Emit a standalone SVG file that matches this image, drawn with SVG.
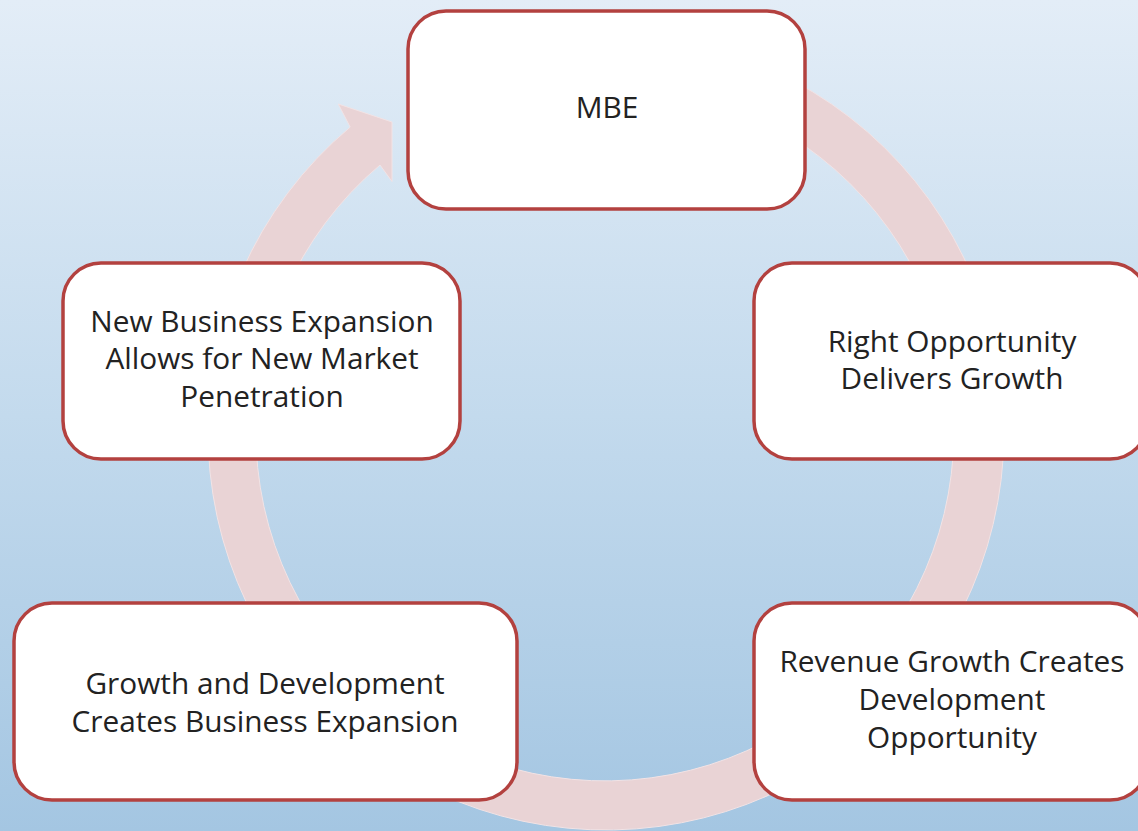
<svg xmlns="http://www.w3.org/2000/svg" width="1138" height="831" viewBox="0 0 1138 831">
  <defs>
    <linearGradient id="bg" x1="0" y1="0" x2="0" y2="1">
      <stop offset="0" stop-color="#e3edf7"/>
      <stop offset="0.5" stop-color="#c3daed"/>
      <stop offset="1" stop-color="#a4c6e2"/>
    </linearGradient>
    <style>
      .box { fill: #ffffff; stroke: #b3413f; stroke-width: 3.5; }
      .lbl { font-family: "Open Sans", Lato, "Liberation Sans", sans-serif; font-size: 29.8px; fill: #222222; text-anchor: middle; }
      .ring { fill: #e9d3d5; stroke: #f2e3e5; stroke-width: 1; }
    </style>
  </defs>
  <rect x="0" y="0" width="1138" height="831" fill="url(#bg)"/>
  <g id="connectors">
    <path class="ring" d="M 640.69 35.52 A 398 398 0 1 1 350.2 127.1 L 338.3 104 L 392 122 L 392 181.5 L 380 165 A 349 349 0 1 0 636.42 84.33 Z"/>
  </g>
  <g id="node-mbe">
    <rect class="box" x="408" y="11" width="397" height="198" rx="38" ry="38"/>
    <text class="lbl" x="607" y="118">MBE</text>
  </g>
  <g id="node-right-opportunity">
    <rect class="box" x="754" y="263" width="394" height="196" rx="38" ry="38"/>
    <text class="lbl" x="952" y="352">Right Opportunity</text>
    <text class="lbl" x="952" y="389">Delivers Growth</text>
  </g>
  <g id="node-revenue">
    <rect class="box" x="754" y="603" width="394" height="197" rx="38" ry="38"/>
    <text class="lbl" x="952" y="672">Revenue Growth Creates</text>
    <text class="lbl" x="952" y="710">Development</text>
    <text class="lbl" x="952" y="748">Opportunity</text>
  </g>
  <g id="node-growth">
    <rect class="box" x="14" y="603" width="503" height="197" rx="38" ry="38"/>
    <text class="lbl" x="265" y="694">Growth and Development</text>
    <text class="lbl" x="265" y="732">Creates Business Expansion</text>
  </g>
  <g id="node-new-business">
    <rect class="box" x="63" y="263" width="397" height="196" rx="38" ry="38"/>
    <text class="lbl" x="262" y="332">New Business Expansion</text>
    <text class="lbl" x="262" y="369">Allows for New Market</text>
    <text class="lbl" x="262" y="407">Penetration</text>
  </g>
</svg>
